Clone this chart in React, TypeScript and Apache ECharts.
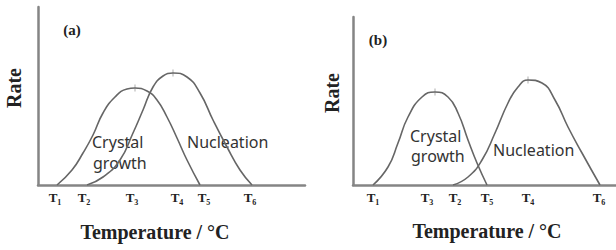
import React, { useEffect, useRef } from "react";
import * as echarts from "echarts";

// Panel (a): x in temperature units (arbitrary), y in rate units (arbitrary)
const growthA: number[][] = [[19,0],[34,15],[45,32],[55,50],[65,72],[77,88],[89,96],[97,97],[109,94],[119,85],[129,68],[139,47],[149,25],[162,0]];
const nucleationA: number[][] = [[49,0],[65,8],[82,25],[95,52],[105,75],[115,98],[125,109],[135,112],[149,108],[162,92],[175,65],[189,38],[202,15],[214,0]];
const peaksA: number[][] = [[97,97],[135,112]];
const tickPosA: number[] = [17, 46, 94, 139, 166, 212];
const tickLabA: string[] = ["1", "2", "3", "4", "5", "6"];

// Panel (b)
const growthB: number[][] = [[20,0],[35,18],[45,42],[55,68],[69,88],[82,93],[95,88],[105,72],[115,45],[124,22],[134,0]];
const nucleationB: number[][] = [[100,0],[115,8],[129,25],[142,52],[155,82],[165,98],[175,105],[189,102],[202,85],[215,58],[229,32],[247,0]];
const peaksB: number[][] = [[82,93],[175,105]];
const tickPosB: number[] = [20, 74, 102, 134, 175, 246];
const tickLabB: string[] = ["1", "3", "2", "5", "4", "6"];

const SERIF = "'Liberation Serif', 'Times New Roman', serif";
const SANS = "'Noto Sans', 'Open Sans', sans-serif";
const CURVE = "#666666";
const AXIS = "#858585";

function xAxisFor(gridIndex: number, max: number, pos: number[], lab: string[]) {
  return {
    type: "value",
    gridIndex,
    min: 0,
    max,
    axisLine: { show: true, lineStyle: { color: AXIS, width: 2.5 } },
    axisTick: { show: false },
    splitLine: { show: false },
    axisLabel: {
      show: true,
      customValues: pos,
      margin: 6,
      formatter: (v: number) => {
        const i = pos.indexOf(v);
        return i >= 0 ? `{t|T}{s|${lab[i]}}` : "";
      },
      rich: {
        t: { fontFamily: SERIF, fontWeight: "bold", fontSize: 13, color: "#222", verticalAlign: "bottom", lineHeight: 15, padding: [0, 0, 2, 0] },
        s: { fontFamily: SERIF, fontWeight: "bold", fontSize: 8, color: "#222", verticalAlign: "bottom", lineHeight: 11 },
      },
    },
  };
}

function yAxisFor(gridIndex: number, max: number) {
  return {
    type: "value",
    gridIndex,
    min: 0,
    max,
    axisLine: { show: true, lineStyle: { color: AXIS, width: 2.5 } },
    axisTick: { show: false },
    axisLabel: { show: false },
    splitLine: { show: false },
  };
}

function curve(data: number[][], idx: number) {
  return {
    type: "line",
    xAxisIndex: idx,
    yAxisIndex: idx,
    data,
    smooth: 0.5,
    symbol: "none",
    lineStyle: { color: CURVE, width: 1.6 },
  };
}

function peaks(data: number[][], idx: number) {
  return {
    type: "scatter",
    xAxisIndex: idx,
    yAxisIndex: idx,
    data,
    symbol: "rect",
    symbolSize: [1, 7],
    itemStyle: { color: "#999" },
  };
}

function txt(text: string, x: number, y: number, font: string, size: number, weight: string, align = "center", rot = 0, color = "#222") {
  return {
    type: "text",
    x,
    y,
    rotation: rot,
    style: {
      text,
      font: `${weight} ${size}px ${font}`,
      fill: color,
      textAlign: align,
      textVerticalAlign: "middle",
    },
  };
}

export default function App() {
  const ref = useRef<HTMLDivElement>(null);
  useEffect(() => {
    document.body.style.margin = "0";
    const chart = echarts.init(ref.current!, null, { renderer: "svg" });
    chart.setOption({
      animation: false,
      backgroundColor: "#fff",
      grid: [
        { left: 38, top: 7, width: 267, height: 178 },
        { left: 353, top: 17, width: 263, height: 168 },
      ],
      xAxis: [xAxisFor(0, 267, tickPosA, tickLabA), xAxisFor(1, 263, tickPosB, tickLabB)],
      yAxis: [yAxisFor(0, 178), yAxisFor(1, 168)],
      series: [
        curve(growthA, 0),
        curve(nucleationA, 0),
        peaks(peaksA, 0),
        curve(growthB, 1),
        curve(nucleationB, 1),
        peaks(peaksB, 1),
      ],
      graphic: [
        txt("(a)", 72, 30, SERIF, 15, "bold"),
        txt("(b)", 378, 40, SERIF, 15, "bold"),
        txt("Rate", 14, 88, SERIF, 20, "bold", "center", Math.PI / 2),
        txt("Rate", 332, 93, SERIF, 20, "bold", "center", Math.PI / 2),
        txt("Temperature / °C", 155, 232, SERIF, 20, "bold"),
        txt("Temperature / °C", 487, 231, SERIF, 20, "bold"),
        txt("Crystal", 92, 142, SANS, 16, "normal", "left", 0, "#333"),
        txt("growth", 93, 163, SANS, 16, "normal", "left", 0, "#333"),
        txt("Nucleation", 187, 142, SANS, 16, "normal", "left", 0, "#333"),
        txt("Crystal", 410, 136, SANS, 16, "normal", "left", 0, "#333"),
        txt("growth", 411, 156, SANS, 16, "normal", "left", 0, "#333"),
        txt("Nucleation", 493, 150, SANS, 16, "normal", "left", 0, "#333"),
      ],
    });
    return () => chart.dispose();
  }, []);
  return <div ref={ref} style={{ width: 616, height: 250 }} />;
}
